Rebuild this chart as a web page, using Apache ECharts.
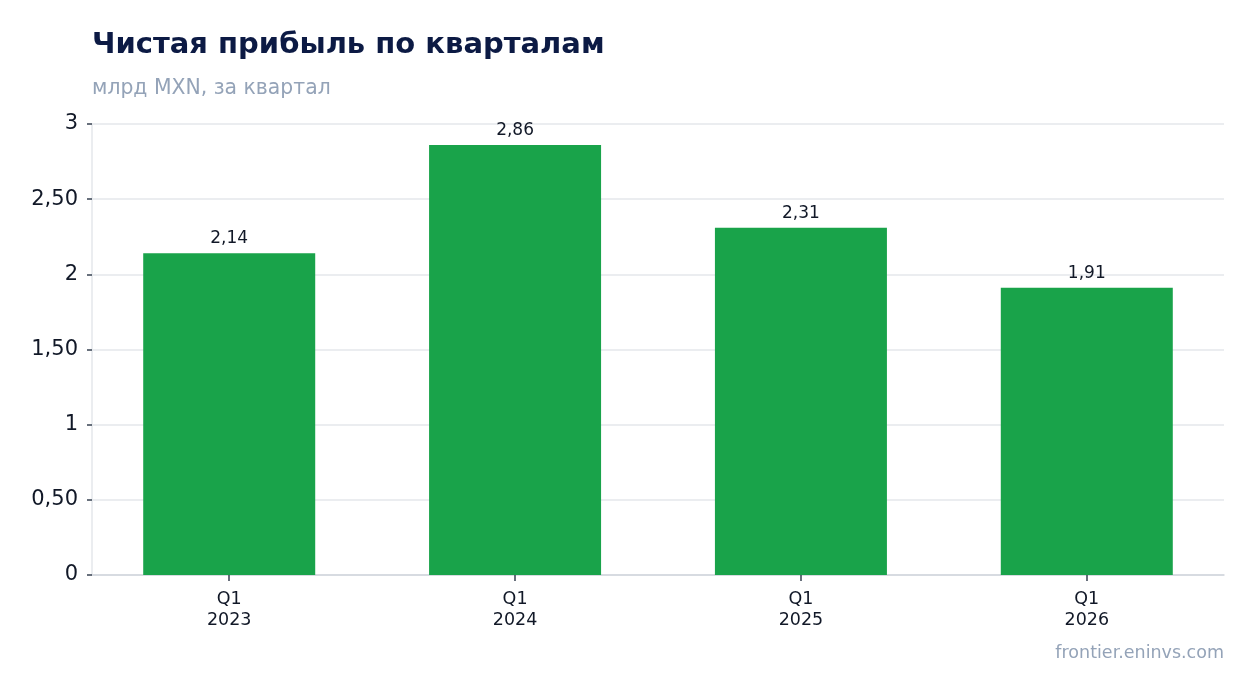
<!DOCTYPE html>
<html><head><meta charset="utf-8">
<script src="https://cdn.jsdelivr.net/npm/echarts@6/dist/echarts.min.js"></script>
<style>html,body{margin:0;padding:0;background:#fff}#c{width:1254px;height:693px}</style>
</head><body><div id="c"></div>
<script>
const categories = ['Q1\n2023', 'Q1\n2024', 'Q1\n2025', 'Q1\n2026'];
const netProfit = [2.14, 2.86, 2.31, 1.91];
const titleText = 'Чистая прибыль по кварталам';
const subtitleText = 'млрд MXN, за квартал';
const sourceText = 'frontier.eninvs.com';

const fmt = v => {
  if (v === 0) return '0';
  if (Number.isInteger(v)) return String(v);
  return v.toFixed(2).replace('.', ',');
};
const catIdx = categories.map((_, i) => i);
const barData = netProfit.map((v, i) => [i, v]);

const chart = echarts.init(document.getElementById('c'));
chart.setOption({
  backgroundColor: '#fff',
  textStyle: { fontFamily: 'DejaVu Sans' },
  title: [
    { text: titleText, left: 92, top: 31, padding: 0,
      textStyle: { fontFamily: 'DejaVu Sans', fontSize: 29, fontWeight: 'bold', color: '#0c1a44' } },
    { text: subtitleText, left: 92, top: 79, padding: 0,
      textStyle: { fontFamily: 'DejaVu Sans', fontSize: 20.4, fontWeight: 'normal', color: '#94a3b8' } },
    { text: sourceText, right: 30, top: 644, padding: 0,
      textStyle: { fontFamily: 'DejaVu Sans', fontSize: 17.5, fontWeight: 'normal', color: '#94a3b8' } }
  ],
  grid: { left: 92, right: 30, top: 124, bottom: 118, containLabel: false },
  xAxis: {
    type: 'value', min: -0.48, max: 3.48,
    axisLine: { show: true, onZero: false, lineStyle: { color: '#d1d5db', width: 1.5 } },
    axisTick: { show: true, length: 6, customValues: catIdx, lineStyle: { color: '#374151', width: 1.5 } },
    axisLabel: { color: '#111827', fontSize: 17.5, lineHeight: 21, margin: 14, customValues: catIdx,
      formatter: v => categories[Math.round(v)] },
    splitLine: { show: false }
  },
  yAxis: {
    type: 'value', min: 0, max: 3, interval: 0.5,
    axisLine: { show: true, onZero: false, lineStyle: { color: '#e5e7eb', width: 1.5 } },
    axisTick: { show: true, length: 5, lineStyle: { color: '#374151', width: 1.5 } },
    axisLabel: { color: '#111827', fontSize: 21, margin: 14, padding: [4, 0, 0, 0], formatter: fmt },
    splitLine: { show: true, lineStyle: { color: '#e5e7eb', width: 1.5 } }
  },
  series: [{
    type: 'bar', data: barData, barWidth: 172,
    itemStyle: { color: '#19a34a' },
    label: { show: true, position: 'top', distance: 6, color: '#111827', fontSize: 17,
      formatter: p => p.value[1].toFixed(2).replace('.', ',') }
  }],
  animation: false
});
</script></body></html>
